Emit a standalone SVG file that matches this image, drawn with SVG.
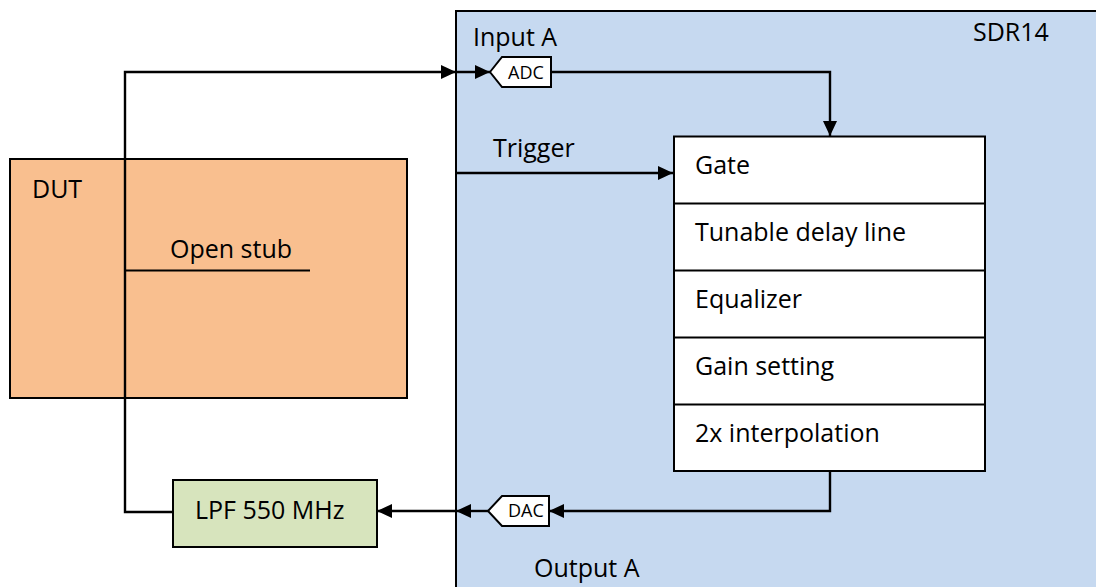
<svg xmlns="http://www.w3.org/2000/svg" width="1096" height="587" viewBox="0 0 1096 587">
<style>
text{font-family:"Open Sans","Liberation Sans",sans-serif;fill:#000}
.lbl{font-size:25px}
.sm{font-size:18px}
.box{stroke:#000;stroke-width:2}
.wire{fill:none;stroke:#000;stroke-width:2.4}
</style>
<defs>
<marker id="ah" markerUnits="userSpaceOnUse" markerWidth="16" markerHeight="14" refX="15" refY="7" orient="auto">
<path d="M0,0 L15,7 L0,14 z" fill="#000"/>
</marker>
</defs>
<rect width="1096" height="587" fill="#fff"/>
<g id="sdr14">
<rect class="box" x="456" y="11" width="660" height="600" fill="#C6D9F0"/>
<text class="lbl" x="973" y="41">SDR14</text>
<text class="lbl" x="473" y="46">Input A</text>
<text class="lbl" x="493" y="157">Trigger</text>
<text class="lbl" x="534" y="577">Output A</text>
</g>
<g id="dut">
<rect class="box" x="10" y="159" width="397" height="239" fill="#F9BF8F"/>
<text class="lbl" x="32" y="198">DUT</text>
<text class="lbl" x="170" y="258">Open stub</text>
<line x1="124" y1="270.5" x2="310" y2="270.5" stroke="#000" stroke-width="2"/>
</g>
<g id="lpf">
<rect class="box" x="173" y="480" width="204" height="67" fill="#D7E4BD"/>
<text class="lbl" x="195" y="519">LPF 550 MHz</text>
</g>
<g id="adc">
<path class="box" d="M490,72 L502,57 L551,57 L551,87 L502,87 Z" fill="#fff"/>
<text class="sm" x="508" y="78.5">ADC</text>
</g>
<g id="dac">
<path class="box" d="M488,511 L502,496 L549,496 L549,526 L502,526 Z" fill="#fff"/>
<text class="sm" x="508" y="517">DAC</text>
</g>
<g id="chain">
<rect class="box" x="674" y="136.5" width="311" height="334.5" fill="#fff"/>
<line x1="674" y1="203.5" x2="985" y2="203.5" stroke="#000" stroke-width="2"/>
<line x1="674" y1="270.5" x2="985" y2="270.5" stroke="#000" stroke-width="2"/>
<line x1="674" y1="337.5" x2="985" y2="337.5" stroke="#000" stroke-width="2"/>
<line x1="674" y1="404.5" x2="985" y2="404.5" stroke="#000" stroke-width="2"/>
<text class="lbl" x="695" y="174">Gate</text>
<text class="lbl" x="695" y="241">Tunable delay line</text>
<text class="lbl" x="695" y="308">Equalizer</text>
<text class="lbl" x="695" y="375">Gain setting</text>
<text class="lbl" x="695" y="442">2x interpolation</text>
</g>
<g id="connectors">
<polyline class="wire" points="173,512 125,512 125,72 456,72" marker-end="url(#ah)"/>
<line class="wire" x1="456" y1="72" x2="490" y2="72" marker-end="url(#ah)"/>
<polyline class="wire" points="551,72 830,72 830,136" marker-end="url(#ah)"/>
<line class="wire" x1="456" y1="173" x2="673" y2="173" marker-end="url(#ah)"/>
<polyline class="wire" points="830,471 830,511 549,511" marker-end="url(#ah)"/>
<line class="wire" x1="488" y1="511" x2="456" y2="511" marker-end="url(#ah)"/>
<line class="wire" x1="456" y1="511" x2="377" y2="511" marker-end="url(#ah)"/>
</g>
</svg>
